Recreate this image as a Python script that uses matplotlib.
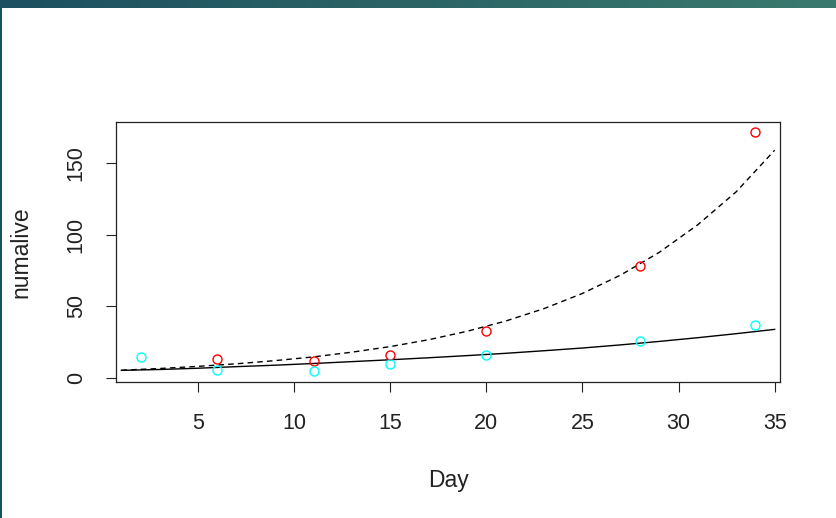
import numpy as np
import matplotlib.pyplot as plt
from matplotlib.colors import LinearSegmentedColormap

plt.rcParams['font.family'] = ['Liberation Sans', 'DejaVu Sans']

# observed points
day_red = [6, 11, 15, 20, 28, 34]
num_red = [13, 12, 16, 33, 78, 172]
day_cyan = [2, 6, 11, 15, 20, 28, 34]
num_cyan = [15, 6, 5, 10, 16, 26, 37]

# fitted curves
day_fit = [1, 3, 5, 7, 9, 11, 13, 15, 17, 19, 21, 23, 25, 27, 29, 31, 33, 35]
fit_dashed = [5.5, 6.7, 8.2, 10.0, 12.2, 14.8, 18.1, 22.0, 26.8, 32.7,
              39.8, 48.5, 59.1, 72.0, 87.8, 107, 130, 159]
fit_solid = [5.4, 6.0, 6.9, 8.0, 9.0, 10.2, 11.5, 12.8, 14.2, 15.7,
             17.3, 19.1, 21.0, 23.2, 25.6, 28.2, 31.0, 34.0]

fig = plt.figure(figsize=(8.36, 5.18), dpi=100)

# screenshot frame: gradient strip on top, thin strip on the left
band = fig.add_axes([0, 1 - 8 / 518, 1, 8 / 518])
grad = np.linspace(0, 1, 256)[None, :]
cm = LinearSegmentedColormap.from_list('frame', ['#1d5060', '#2c6466', '#3a7a6e'])
band.imshow(grad, aspect='auto', cmap=cm)
band.axis('off')
side = fig.add_axes([0, 0, 2 / 836, 1 - 8 / 518])
side.set_facecolor('#1d5060')
side.set_xticks([])
side.set_yticks([])
for s in side.spines.values():
    s.set_visible(False)

ax = fig.add_axes([116 / 836, 1 - 382 / 518, (780 - 116) / 836, (382 - 122) / 518])

ax.plot(day_fit, fit_dashed, color='black', lw=1, dashes=(4, 3))
ax.plot(day_fit, fit_solid, color='black', lw=1)
ax.plot(day_red, num_red, 'o', mfc='none', mec='red', ms=6.5, mew=1)
ax.plot(day_cyan, num_cyan, 'o', mfc='none', mec='cyan', ms=6.5, mew=1)

ax.set_xlim(0.72, 35.28)
ax.set_ylim(-2.72, 178.72)
ax.set_xticks([5, 10, 15, 20, 25, 30, 35])
ax.set_yticks([0, 50, 100, 150])
ax.tick_params(axis='x', length=7, width=0.8, pad=15, labelsize=15.5, colors='#222222')
ax.tick_params(axis='y', length=7, width=0.8, pad=14, labelsize=15.5, colors='#222222',
               labelrotation=90)
for lab in ax.get_yticklabels():
    lab.set_va('center')
for s in ax.spines.values():
    s.set_linewidth(0.9)
    s.set_color('#222222')

ax.set_xlabel('Day', fontsize=16.5, color='#222222')
ax.set_ylabel('numalive', fontsize=16.5, color='#222222')
ax.xaxis.set_label_coords(0.5, -0.336)
ax.yaxis.set_label_coords(-0.1253, 0.5)

fig.savefig('out.png', dpi=100)
